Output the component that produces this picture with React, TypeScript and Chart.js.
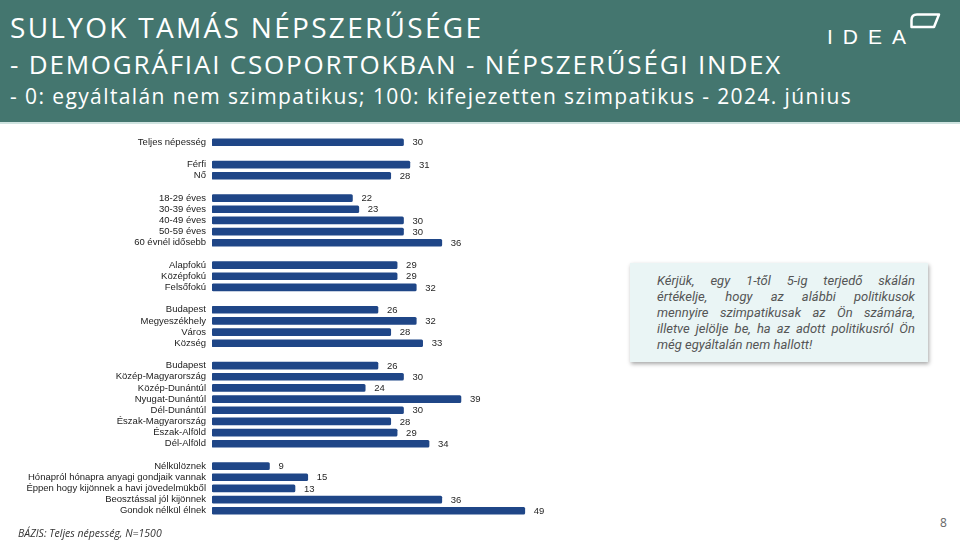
import React, { useEffect, useRef } from "react";
import { Chart, registerables } from "chart.js";

Chart.register(...registerables);

const categories: string[] = [
  "Teljes népesség",
  "",
  "Férfi",
  "Nő",
  "",
  "18-29 éves",
  "30-39 éves",
  "40-49 éves",
  "50-59 éves",
  "60 évnél idősebb",
  "",
  "Alapfokú",
  "Középfokú",
  "Felsőfokú",
  "",
  "Budapest",
  "Megyeszékhely",
  "Város",
  "Község",
  "",
  "Budapest",
  "Közép-Magyarország",
  "Közép-Dunántúl",
  "Nyugat-Dunántúl",
  "Dél-Dunántúl",
  "Észak-Magyarország",
  "Észak-Alföld",
  "Dél-Alföld",
  "",
  "Nélkülöznek",
  "Hónapról hónapra anyagi gondjaik vannak",
  "Éppen hogy kijönnek a havi jövedelmükből",
  "Beosztással jól kijönnek",
  "Gondok nélkül élnek",
];

const values: (number | null)[] = [
  30,
  null,
  31, 28,
  null,
  22, 23, 30, 30, 36,
  null,
  29, 29, 32,
  null,
  26, 32, 28, 33,
  null,
  26, 30, 24, 39, 30, 28, 29, 34,
  null,
  9, 15, 13, 36, 49,
];

const titleLines: string[] = [
  "SULYOK TAMÁS NÉPSZERŰSÉGE",
  "- DEMOGRÁFIAI CSOPORTOKBAN - NÉPSZERŰSÉGI INDEX",
  "- 0: egyáltalán nem szimpatikus; 100: kifejezetten szimpatikus - 2024. június",
];

const noteLines: string[] = [
  "Kérjük, egy 1-től 5-ig terjedő skálán",
  "értékelje, hogy az alábbi politikusok",
  "mennyire szimpatikusak az Ön számára,",
  "illetve jelölje be, ha az adott politikusról Ön",
  "még egyáltalán nem hallott!",
];

const baseText = "BÁZIS: Teljes népesség, N=1500";
const pageNumber = "8";
const logoText = "IDEA";

const BAR_COLOR = "#1f4687";
const HEADER_COLOR = "#44766f";

const valueLabelPlugin = {
  id: "valueLabels",
  afterDatasetsDraw(chart: any) {
    const ctx = chart.ctx;
    const meta = chart.getDatasetMeta(0);
    const data = chart.data.datasets[0].data;
    ctx.save();
    ctx.font = "9.5px 'Liberation Sans', Arial, sans-serif";
    ctx.fillStyle = "#262626";
    ctx.textAlign = "left";
    ctx.textBaseline = "middle";
    meta.data.forEach((bar: any, i: number) => {
      const v = data[i];
      if (v === null || v === undefined) return;
      ctx.fillText(String(v), bar.x + 9, bar.y + 0.5);
    });
    ctx.restore();
  },
};

export default function App() {
  const canvasRef = useRef<HTMLCanvasElement | null>(null);

  useEffect(() => {
    if (!canvasRef.current) return;
    const chart = new Chart(canvasRef.current, {
      type: "bar",
      data: {
        labels: categories,
        datasets: [
          {
            data: values,
            backgroundColor: BAR_COLOR,
            borderWidth: 0,
            barThickness: 7,
            borderRadius: 1.5,
            borderSkipped: false,
          },
        ],
      },
      options: {
        indexAxis: "y",
        responsive: false,
        animation: false,
        maintainAspectRatio: false,
        layout: { padding: 0 },
        plugins: {
          legend: { display: false },
          tooltip: { enabled: false },
          title: { display: false },
        },
        scales: {
          x: {
            display: false,
            min: 0,
            max: 60,
          },
          y: {
            grid: { display: false, drawTicks: false },
            border: { display: false },
            ticks: {
              autoSkip: false,
              padding: 6,
              color: "#222",
              font: { family: "'Liberation Sans', Arial, sans-serif", size: 9.5 },
            },
            afterFit: (scale: any) => {
              scale.width = 212;
            },
          },
        },
      },
      plugins: [valueLabelPlugin],
    });
    return () => chart.destroy();
  }, []);

  const titleStyle = (top: number, size: number, lh: number, ls: number): React.CSSProperties => ({
    position: "absolute",
    left: 10,
    top,
    color: "#fff",
    fontSize: size,
    lineHeight: `${lh}px`,
    letterSpacing: ls,
    whiteSpace: "nowrap",
    fontWeight: 400,
  });

  return (
    <div
      style={{
        position: "fixed",
        left: 0,
        top: 0,
        width: 960,
        height: 540,
        background: "#ffffff",
        overflow: "hidden",
        fontFamily: "'Open Sans', sans-serif",
      }}
    >
      <div
        style={{
          position: "absolute",
          left: 0,
          top: 0,
          width: 960,
          height: 122,
          background: HEADER_COLOR,
          borderBottom: "2px solid #cfe3e0",
        }}
      />
      <div style={titleStyle(10, 28, 34, 2.3)}>{titleLines[0]}</div>
      <div style={titleStyle(47, 26, 34, 1.8)}>{titleLines[1]}</div>
      <div style={titleStyle(82, 21, 28, 1.4)}>{titleLines[2]}</div>

      <div
        style={{
          position: "absolute",
          left: 827,
          top: 24,
          color: "#fff",
          fontSize: 21,
          lineHeight: "26px",
          letterSpacing: 10,
          fontFamily: "'Liberation Sans', Arial, sans-serif",
          fontWeight: 400,
        }}
      >
        {logoText}
      </div>
      <svg
        style={{ position: "absolute", left: 908, top: 12 }}
        width={34}
        height={18}
        viewBox="0 0 34 18"
      >
        <path
          d="M9 2.5 L31 2.5 L26 15 L3.5 15 L3.5 8 Q3.5 2.5 9 2.5 Z"
          fill="none"
          stroke="#fff"
          strokeWidth={2.5}
          strokeLinejoin="round"
        />
      </svg>

      <canvas
        ref={canvasRef}
        width={595}
        height={403}
        style={{ position: "absolute", left: 0, top: 125, width: 595, height: 403 }}
      />

      <div
        style={{
          position: "absolute",
          left: 630,
          top: 263,
          width: 298,
          height: 99,
          background: "#eaf5f5",
          boxShadow: "1px 2px 4px rgba(0,0,0,0.35)",
          boxSizing: "border-box",
          padding: "10px 13px 0 27px",
        }}
      >
        {noteLines.map((line, i) => (
          <div
            key={i}
            style={{
              fontFamily: "Roboto, 'Open Sans', sans-serif",
              fontStyle: "italic",
              fontSize: 13,
              lineHeight: "16px",
              color: "#555",
              textAlign: "justify",
              textAlignLast: i < noteLines.length - 1 ? "justify" : "left",
              whiteSpace: i < noteLines.length - 1 ? "normal" : "nowrap",
              width: 258,
            }}
          >
            {line}
          </div>
        ))}
      </div>

      <div
        style={{
          position: "absolute",
          left: 18,
          top: 527,
          fontFamily: "'Open Sans', sans-serif",
          fontStyle: "italic",
          fontSize: 10.5,
          lineHeight: "13px",
          color: "#333",
          whiteSpace: "nowrap",
        }}
      >
        {baseText}
      </div>
      <div
        style={{
          position: "absolute",
          left: 940,
          top: 514,
          fontFamily: "'Open Sans', sans-serif",
          fontSize: 12,
          color: "#666",
        }}
      >
        {pageNumber}
      </div>
    </div>
  );
}
